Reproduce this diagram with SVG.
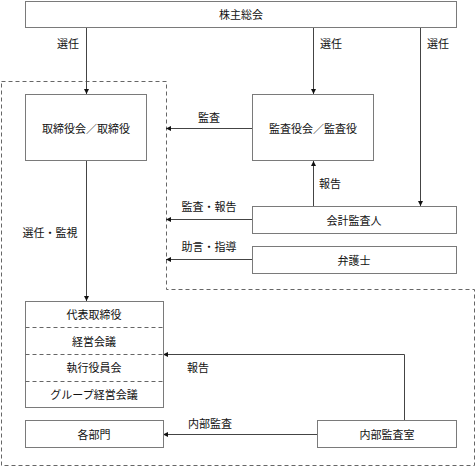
<svg xmlns="http://www.w3.org/2000/svg" width="476" height="467" viewBox="0 0 476 467">
<style>
.box{fill:#fff;stroke:#7a7a7a;stroke-width:1}
.dash{fill:none;stroke:#666;stroke-width:1;stroke-dasharray:4 3}
.ln{fill:none;stroke:#444;stroke-width:1}
text{font-family:"Noto Sans CJK JP","Noto Sans CJK SC",sans-serif;font-size:11px;fill:#111;text-anchor:middle;dominant-baseline:central}
</style>
<defs>
<marker id="ah" viewBox="0 0 10 10" refX="10" refY="5" markerWidth="5" markerHeight="5" orient="auto" markerUnits="userSpaceOnUse">
<path d="M0,0 L10,5 L0,10 Z" fill="#111"/>
</marker>
</defs>
<path class="dash" d="M1.5,81.5 H166.5 V289.5 H474.5 V465.5 H1.5 Z"/>
<g id="connectors">
<line class="ln" x1="86.5" y1="27" x2="86.5" y2="94" marker-end="url(#ah)"/>
<text x="68" y="43">選任</text>
<line class="ln" x1="313.5" y1="27" x2="313.5" y2="94" marker-end="url(#ah)"/>
<text x="331" y="43">選任</text>
<line class="ln" x1="420.5" y1="27" x2="420.5" y2="206" marker-end="url(#ah)"/>
<text x="438" y="43">選任</text>
<line class="ln" x1="252" y1="128.5" x2="166" y2="128.5" marker-end="url(#ah)"/>
<text x="209" y="117">監査</text>
<line class="ln" x1="313.5" y1="206" x2="313.5" y2="161" marker-end="url(#ah)"/>
<text x="330" y="183">報告</text>
<line class="ln" x1="252" y1="219.5" x2="166" y2="219.5" marker-end="url(#ah)"/>
<text x="209" y="206">監査・報告</text>
<line class="ln" x1="252" y1="259.5" x2="166" y2="259.5" marker-end="url(#ah)"/>
<text x="209" y="246">助言・指導</text>
<line class="ln" x1="86.5" y1="161" x2="86.5" y2="301" marker-end="url(#ah)"/>
<text x="50" y="232">選任・監視</text>
<polyline class="ln" points="404.5,420 404.5,354.5 163,354.5" marker-end="url(#ah)"/>
<text x="198" y="367">報告</text>
<line class="ln" x1="317" y1="434.5" x2="163" y2="434.5" marker-end="url(#ah)"/>
<text x="210" y="423">内部監査</text>
</g>
<g id="shareholders">
<rect class="box" x="25.5" y="1.5" width="431" height="26"/>
<text x="241" y="14">株主総会</text>
</g>
<g id="board">
<rect class="box" x="25.5" y="94.5" width="121" height="66"/>
<text x="86" y="128">取締役会／取締役</text>
</g>
<g id="auditors">
<rect class="box" x="252.5" y="94.5" width="121" height="66"/>
<text x="313" y="128">監査役会／監査役</text>
</g>
<g id="accounting-auditor">
<rect class="box" x="252.5" y="206.5" width="204" height="27"/>
<text x="354" y="220">会計監査人</text>
</g>
<g id="lawyer">
<rect class="box" x="252.5" y="246.5" width="204" height="27"/>
<text x="354" y="260">弁護士</text>
</g>
<g id="executive">
<rect class="box" x="25.5" y="301.5" width="138" height="106"/>
<line class="dash" x1="25.5" y1="327.5" x2="163.5" y2="327.5"/>
<line class="dash" x1="25.5" y1="354.5" x2="163.5" y2="354.5"/>
<line class="dash" x1="25.5" y1="381.5" x2="163.5" y2="381.5"/>
<text x="94" y="314">代表取締役</text>
<text x="94" y="341">経営会議</text>
<text x="94" y="367">執行役員会</text>
<text x="94" y="394">グループ経営会議</text>
</g>
<g id="departments">
<rect class="box" x="25.5" y="420.5" width="138" height="27"/>
<text x="94" y="434">各部門</text>
</g>
<g id="internal-audit">
<rect class="box" x="317.5" y="420.5" width="139" height="27"/>
<text x="387" y="434">内部監査室</text>
</g>
</svg>
